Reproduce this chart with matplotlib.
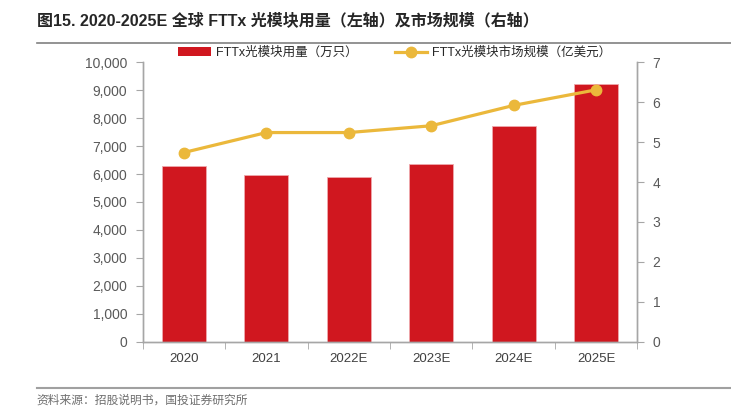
import numpy as np
import matplotlib
matplotlib.use("Agg")
import matplotlib.pyplot as plt
from matplotlib.ticker import FuncFormatter, FixedLocator
from matplotlib.lines import Line2D
from matplotlib.patches import Patch

plt.rcParams['font.family'] = ['Liberation Sans', 'Noto Sans CJK SC', 'DejaVu Sans']

# data
years = ['2020', '2021', '2022E', '2023E', '2024E', '2025E']
volume = [6290, 5960, 5890, 6360, 7730, 9210]      # 万只, left axis
market = [4.74, 5.24, 5.24, 5.41, 5.92, 6.31]      # 亿美元, right axis

title = '图15. 2020-2025E 全球 FTTx 光模块用量（左轴）及市场规模（右轴）'
source = '资料来源：招股说明书，国投证券研究所'
bar_label = 'FTTx光模块用量（万只）'
line_label = 'FTTx光模块市场规模（亿美元）'

red = '#D0171F'
gold = '#EBB83B'
spine_c = '#A6A6A6'
tick_c = '#595959'

fig = plt.figure(figsize=(7.31, 4.19), dpi=100)
ax = fig.add_axes([0.1952, 0.1845, 0.8718 - 0.1952, 0.8513 - 0.1845])
ax2 = ax.twinx()

x = np.arange(len(years))
ax.bar(x, volume, width=0.535, color=red, edgecolor='#EFA9AC', linewidth=0.6, zorder=2)
ax2.plot(x, market, color=gold, lw=2.3, marker='o', ms=7.5, zorder=3)

ax.set_xlim(-0.5, len(years) - 0.5)
ax.set_ylim(0, 10000)
ax2.set_ylim(0, 7)
ax.set_yticks(np.arange(0, 10001, 1000))
ax2.set_yticks(np.arange(0, 8, 1))
ax.yaxis.set_major_formatter(FuncFormatter(lambda v, p: f'{int(v):,}'))

ax.set_xticks(x)
ax.set_xticklabels(years)
ax.xaxis.set_minor_locator(FixedLocator(np.arange(-0.5, len(years), 1)))
ax.tick_params(axis='x', which='major', length=0, pad=8, labelsize=9.5, labelcolor='#404040')
ax.tick_params(axis='x', which='minor', length=5, color=spine_c, direction='out')
ax.tick_params(axis='y', length=5, color=spine_c, labelsize=10, labelcolor=tick_c, pad=6)
ax2.tick_params(axis='y', length=5, color=spine_c, labelsize=10, labelcolor=tick_c, pad=6)

for a in (ax, ax2):
    a.spines['top'].set_visible(False)
    for s in ('left', 'right', 'bottom'):
        a.spines[s].set_color(spine_c)
        a.spines[s].set_linewidth(1)

handles = [Patch(facecolor=red, edgecolor='none'),
           Line2D([0], [0], color=gold, lw=2.3, marker='o', ms=7.5)]
fig.legend(handles, [bar_label, line_label], loc='center', bbox_to_anchor=(0.54, 0.874),
           ncol=2, frameon=False, fontsize=9, handlelength=2.6, columnspacing=3.0,
           handletextpad=0.4, labelcolor='#262626')

# title, rules and source
fig.text(0.05, 0.952, title, fontsize=11.5, fontweight='bold', color='#262626', va='center')
fig.add_artist(Line2D([0.05, 1.0], [0.897, 0.897], color='#808080', lw=1.2, transform=fig.transFigure))
fig.add_artist(Line2D([0.05, 1.0], [0.074, 0.074], color='#A0A0A0', lw=1.5, transform=fig.transFigure))
fig.text(0.05, 0.045, source, fontsize=8.5, color='#6E6E6E', va='center', style='italic')

fig.savefig('out.png', dpi=100)
